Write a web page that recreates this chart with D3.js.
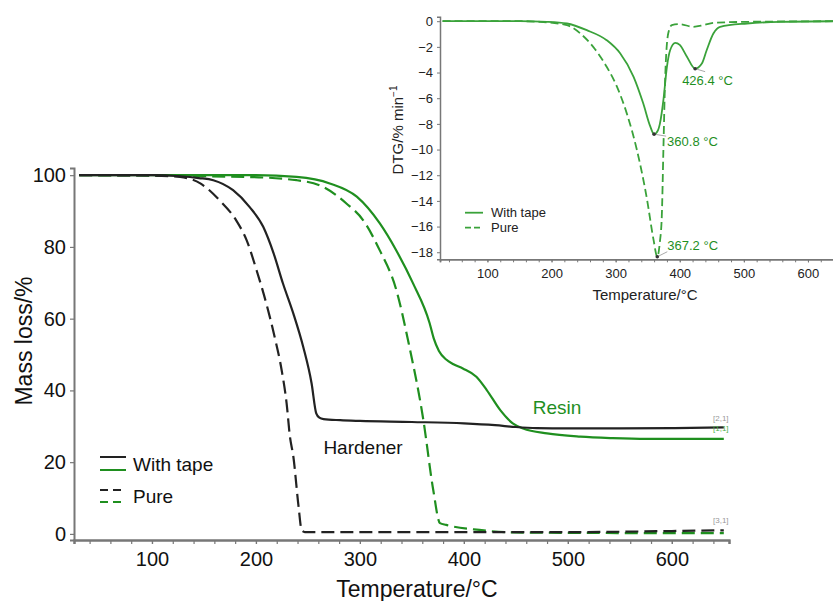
<!DOCTYPE html>
<html><head><meta charset="utf-8">
<script src="https://cdn.jsdelivr.net/npm/d3@7"></script>
<style>body{margin:0;background:#fff}svg{display:block;font-family:"Liberation Sans",Arial,sans-serif}</style>
</head><body>
<svg id="c" width="833" height="601"></svg>
<script>
// ---------- Main TGA data (Temperature °C, Mass %) ----------
const hardWithT = [30,100,127,145,159,178,194,207,217,226,236,245.5,253.5,258,261,265,281,300,350,400,430,450,470,500,550,600,650];
const hardWithV = [100,100,99.7,99.2,98.6,95.8,91.1,85.6,78.2,69.8,61.4,52.1,42,33.6,32.4,32,31.7,31.5,31.2,30.8,30.3,29.8,29.5,29.4,29.4,29.5,29.7];
const hardPureT = [30,100,127,146.5,165,181,191,200.6,210,218,224.7,229.5,232.7,236,241,244,247,300,400,500,600,650];
const hardPureV = [100,99.9,99.5,97.7,93,87.4,81.9,73.5,64.2,54.9,45.7,36.4,27.1,21.5,7.6,1,0.5,0.5,0.5,0.5,0.8,1];
const resinWithT = [30,200,239,271,297,319,335,351,367,371,376,383,390,399,412,422,435,447,457,480,512,543,576,650];
const resinWithV = [100,100,99.5,97.7,94,86.6,79,69.9,58.8,54.5,51,48.6,47.3,46.1,43.8,40.1,34.5,30.8,29.4,28,27.1,26.7,26.5,26.5];
const resinPureT = [30,191,239,265,287,303,319,335,347,361,370.5,377,383,415,447,500,600,650];
const resinPureV = [100,99.5,98.6,96.7,92.1,87.5,79.1,68,53,31.8,12.3,3,2.5,1.1,0.4,0.3,0.2,0.2];
const mainXTicks = [100,200,300,400,500,600];
const mainYTicks = [0,20,40,60,80,100];

// ---------- Inset DTG data (Temperature °C, %/min) ----------
const dtgWithT = [30,150,193,224,255,286,307,328,343,354,360,366,369,374.5,380,385,393,400,411,424,434.5,442,452.5,463,505,557,650];
const dtgWithV = [0,0,-0.05,-0.18,-0.7,-1.48,-2.5,-4.33,-6.4,-8.2,-8.8,-8.5,-8.0,-6.15,-3.55,-2.26,-1.69,-1.85,-2.75,-3.7,-3.3,-2.26,-0.96,-0.44,-0.18,-0.05,0];
const dtgPureT = [30,150,182,224,245,265,286,302,317.5,333,349,359,365,369,372,374.5,377,382,387.6,400,421,437,452.5,505,650];
const dtgPureV = [0,0,-0.05,-0.31,-0.96,-2.0,-3.55,-5.1,-7.2,-10,-13.9,-17,-18.35,-17.2,-15.2,-10,-4.85,-0.96,-0.31,-0.23,-0.44,-0.31,-0.13,-0.05,0];
const insetXTicks = [100,200,300,400,500,600];
const insetYTicks = [0,-2,-4,-6,-8,-10,-12,-14,-16,-18];
const peakT = [360, 424, 365];
const peakV = [-8.8, -3.7, -18.35];
const peakLabels = ["360.8 °C", "426.4 °C", "367.2 °C"];

const GREEN = "#1f8f1f", IGREEN = "#3aa23a", BLACK = "#222", AXIS = "#777";
const svg = d3.select("#c");
const zip = (a,b) => a.map((t,i)=>[t,b[i]]);

// ---------- Main chart ----------
const x = d3.scaleLinear().domain([25,655]).range([74,729]);
const y = d3.scaleLinear().domain([-1.7,102]).range([540,168]);
const line = d3.line().x(d=>x(d[0])).y(d=>y(d[1])).curve(d3.curveMonotoneX);

const gx = svg.append("g").attr("transform","translate(0,540)")
  .call(d3.axisBottom(x).tickValues(d3.range(40,660,20)).tickSize(4).tickFormat(""));
const gx2 = svg.append("g").attr("transform","translate(0,540)")
  .call(d3.axisBottom(x).tickValues(mainXTicks).tickSize(4).tickPadding(8).tickFormat(d3.format("d")));
const gy = svg.append("g").attr("transform","translate(74,0)")
  .call(d3.axisLeft(y).tickValues(mainYTicks).tickSize(4).tickPadding(4));
[gx,gx2,gy].forEach(g=>{
  g.select(".domain").attr("stroke",AXIS).attr("stroke-width",2);
  g.selectAll(".tick line").attr("stroke",AXIS).attr("stroke-width",1.2);
  g.selectAll("text").attr("font-size",20).attr("fill","#111").attr("font-family","Liberation Sans, Arial, sans-serif");
});

svg.append("text").attr("transform","translate(32,341) rotate(-90)").attr("text-anchor","middle")
  .attr("font-size",23).attr("fill","#111").text("Mass loss/%");
svg.append("text").attr("x",417).attr("y",597).attr("text-anchor","middle")
  .attr("font-size",23).attr("fill","#111").text("Temperature/°C");

const series = [
  {t:resinWithT, v:resinWithV, c:GREEN, d:null},
  {t:resinPureT, v:resinPureV, c:GREEN, d:"13,6"},
  {t:hardWithT, v:hardWithV, c:BLACK, d:null},
  {t:hardPureT, v:hardPureV, c:BLACK, d:"13,6"}
];
series.forEach(s=>{
  svg.append("path").datum(zip(s.t,s.v)).attr("d",line).attr("fill","none")
    .attr("stroke",s.c).attr("stroke-width",2.2).attr("stroke-dasharray",s.d);
});

svg.append("text").attr("x",363).attr("y",454).attr("text-anchor","middle").attr("font-size",19).attr("fill","#111").text("Hardener");
svg.append("text").attr("x",557).attr("y",414).attr("text-anchor","middle").attr("font-size",19).attr("fill",GREEN).text("Resin");

// end markers
[["[2,1]","#999",421],["[1,1]","#4caf4c",431],["[3,1]","#999",523]].forEach(m=>{
  svg.append("text").attr("x",713).attr("y",m[2]).attr("font-size",8).attr("fill",m[1]).text(m[0]);
});

// main legend
const lg = svg.append("g");
[[457,BLACK,null],[470,GREEN,null],[490,BLACK,"8,5"],[502,GREEN,"8,5"]].forEach(r=>{
  lg.append("line").attr("x1",100).attr("x2",126).attr("y1",r[0]).attr("y2",r[0])
    .attr("stroke",r[1]).attr("stroke-width",2).attr("stroke-dasharray",r[2]);
});
lg.append("text").attr("x",133).attr("y",471).attr("font-size",19).attr("fill","#111").text("With tape");
lg.append("text").attr("x",133).attr("y",503).attr("font-size",19).attr("fill","#111").text("Pure");

// ---------- Inset ----------
const xi = d3.scaleLinear().domain([26,650]).range([440,840]);
const yi = d3.scaleLinear().domain([-18.55,0.35]).range([259.3,16.7]);
const linei = d3.line().x(d=>xi(d[0])).y(d=>yi(d[1])).curve(d3.curveMonotoneX);

const ix = svg.append("g").attr("transform","translate(0,259.3)")
  .call(d3.axisBottom(xi).tickValues(d3.range(40,660,20)).tickSize(3).tickFormat(""));
const ix2 = svg.append("g").attr("transform","translate(0,259.3)")
  .call(d3.axisBottom(xi).tickValues(insetXTicks).tickSize(3).tickPadding(6).tickFormat(d3.format("d")));
const iy = svg.append("g").attr("transform","translate(440,0)")
  .call(d3.axisLeft(yi).tickValues(insetYTicks).tickSize(3).tickPadding(4).tickFormat(d=>d<0?"\u2212"+Math.abs(d):d));
[ix,ix2,iy].forEach(g=>{
  g.select(".domain").attr("stroke",AXIS).attr("stroke-width",1.5);
  g.selectAll(".tick line").attr("stroke",AXIS);
  g.selectAll("text").attr("font-size",13).attr("fill","#222").attr("font-family","Liberation Sans, Arial, sans-serif");
});

const lab = svg.append("text").attr("transform","translate(403,130) rotate(-90)").attr("text-anchor","middle")
  .attr("font-size",15).attr("fill","#222");
lab.append("tspan").text("DTG/% min");
lab.append("tspan").attr("dy",-6).attr("font-size",10).text("\u22121");
svg.append("text").attr("x",645).attr("y",300).attr("text-anchor","middle").attr("font-size",15).attr("fill","#222").text("Temperature/°C");

svg.append("path").datum(zip(dtgWithT,dtgWithV)).attr("d",linei).attr("fill","none")
  .attr("stroke",IGREEN).attr("stroke-width",1.8);
svg.append("path").datum(zip(dtgPureT,dtgPureV)).attr("d",linei).attr("fill","none")
  .attr("stroke",IGREEN).attr("stroke-width",1.8).attr("stroke-dasharray","8,4");

// peak markers & labels
const offs = [[13,12,12,2],[-13,16,10,3],[10,-7,10,-5]];
peakT.forEach((t,i)=>{
  const px = xi(t), py = yi(peakV[i]), o = offs[i];
  svg.append("line").attr("x1",px).attr("y1",py).attr("x2",px+o[2]).attr("y2",py+o[3]).attr("stroke","#aaa").attr("stroke-width",1);
  svg.append("circle").attr("cx",px).attr("cy",py).attr("r",1.8).attr("fill","#333");
  svg.append("text").attr("x",px+o[0]).attr("y",py+o[1]).attr("font-size",13).attr("fill",GREEN).text(peakLabels[i]);
});

// inset legend
svg.append("line").attr("x1",465).attr("x2",483).attr("y1",212.7).attr("y2",212.7).attr("stroke",IGREEN).attr("stroke-width",1.8);
svg.append("line").attr("x1",465).attr("x2",483).attr("y1",227.7).attr("y2",227.7).attr("stroke",IGREEN).attr("stroke-width",1.8).attr("stroke-dasharray","6,3");
svg.append("text").attr("x",491).attr("y",217).attr("font-size",13).attr("fill","#222").text("With tape");
svg.append("text").attr("x",491).attr("y",232).attr("font-size",13).attr("fill","#222").text("Pure");
</script>
</body></html>
